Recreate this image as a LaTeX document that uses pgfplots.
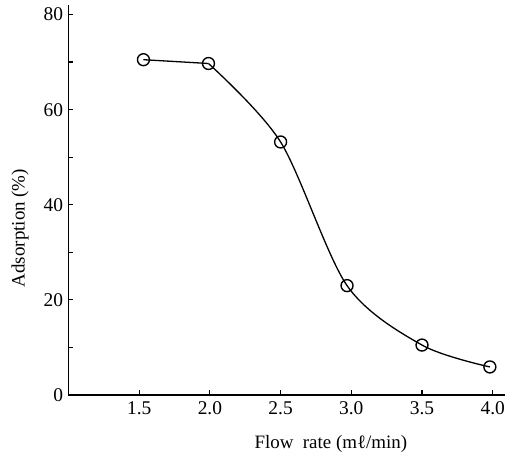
\documentclass[border=0pt]{standalone}
\usepackage{fontspec}
\setmainfont{Liberation Serif}
\usepackage{pgfplots}
\pgfplotsset{compat=1.18}

\begin{document}
\begin{tikzpicture}
\begin{axis}[
    at={(0,0)}, anchor=south west,
    scale only axis,
    width=436.5bp, height=390bp,
    xmin=1.0, xmax=4.087,
    ymin=0, ymax=82,
    axis lines*=left,
    axis line style={line width=1.3pt},
    xtick={1.5,2.0,2.5,3.0,3.5,4.0},
    xticklabels={1.5,2.0,2.5,3.0,3.5,4.0},
    ytick={0,20,40,60,80},
    minor ytick={10,30,50,70},
    tick align=inside,
    major tick length=5bp,
    minor tick length=5bp,
    tick style={line width=1.2pt, black},
    /pgf/number format/assume math mode=true,
    tick label style={font=\fontsize{19.5}{20}\selectfont},
    xticklabel style={yshift=-3bp},
    yticklabel style={xshift=-2bp},
    xlabel={Flow\ \ rate (mℓ/min)},
    ylabel={Adsorption (\%)},
    label style={font=\fontsize{19}{20}\selectfont},
    x label style={at={(axis description cs:0.601,0)}, anchor=center, yshift=-49bp},
    y label style={at={(axis description cs:0,0.428)}, anchor=center, yshift=48.5bp},
]
\addplot[black, line width=1.3pt, mark=none]
    coordinates {(1.53,70.5) (1.99,69.7)};
\addplot[black, line width=1.3pt, smooth, tension=0.5, mark=none]
    coordinates {(1.99,69.7) (2.5,53.2) (2.97,23.0) (3.5,10.5) (3.98,5.9)};
\addplot[black, only marks, mark=o, mark size=6pt, mark options={fill=white, line width=1.4pt}]
    coordinates {(1.53,70.5) (1.99,69.7) (2.5,53.2) (2.97,23.0) (3.5,10.5) (3.98,5.9)};
\end{axis}
\pgfresetboundingbox
\path[use as bounding box] (-68.5bp,-61bp) rectangle (443.5bp,395bp);
\end{tikzpicture}
\end{document}
